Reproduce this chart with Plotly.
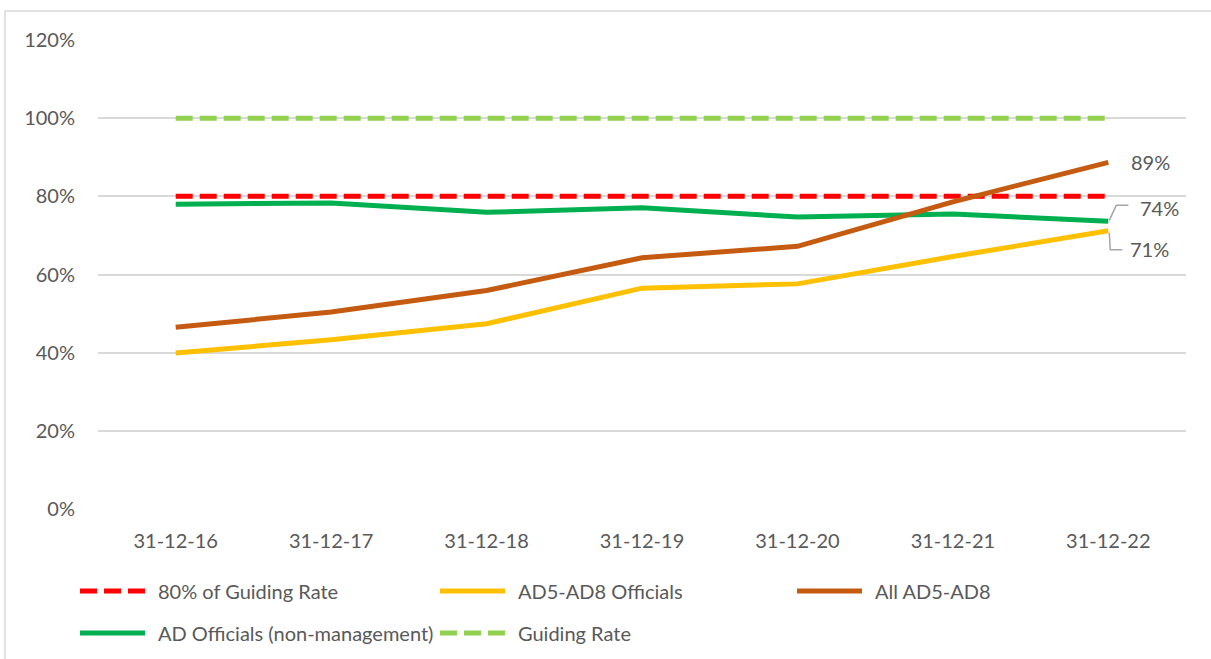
import plotly.graph_objects as go

# Reporting dates (x categories)
dates = ['31-12-16', '31-12-17', '31-12-18', '31-12-19', '31-12-20', '31-12-21', '31-12-22']

# Series values in percent
eighty_of_guiding = [80, 80, 80, 80, 80, 80, 80]
ad5_ad8_officials = [39.9, 43.3, 47.4, 56.5, 57.6, 64.6, 71.2]
all_ad5_ad8 = [46.5, 50.4, 55.9, 64.3, 67.2, 78.6, 88.7]
ad_officials_nonmgmt = [78.0, 78.3, 75.9, 77.1, 74.7, 75.5, 73.6]
guiding_rate = [100, 100, 100, 100, 100, 100, 100]

y_ticks = [0, 20, 40, 60, 80, 100, 120]
y_tick_labels = [f'{v}%' for v in y_ticks]

FONT = 'Lato'
TEXT_GREY = '#595959'
GRID_GREY = '#d9d9d9'
LINE_W = 5
DASH = '17px,7px'

series = [
    ('80% of Guiding Rate', eighty_of_guiding, '#ff0000', DASH),
    ('AD5-AD8 Officials', ad5_ad8_officials, '#ffc000', 'solid'),
    ('All AD5-AD8', all_ad5_ad8, '#c55a11', 'solid'),
    ('AD Officials (non-management)', ad_officials_nonmgmt, '#00b050', 'solid'),
    ('Guiding Rate', guiding_rate, '#92d050', DASH),
]

fig = go.Figure()

# draw order: dashed reference lines first, then the three measured series
for name, values, color, dash in [series[4], series[0], series[3], series[1], series[2]]:
    fig.add_trace(go.Scatter(
        x=dates, y=values, mode='lines', name=name,
        line={'color': color, 'width': LINE_W, 'dash': dash},
        showlegend=False, hoverinfo='skip'))

# plot area spans these pixels of the 1211x659 page
left, right, top, bottom = 98, 1186, 40, 509


def px_x(px):
    return (px - left) / (right - left)


def px_y(py):
    return (bottom - py) / (bottom - top)


# hand-made legend so the swatches are as long as in the original
legend_slots = [(80, 591), (440, 591), (797, 591), (80, 633), (440, 633)]
shapes = []
annotations = []
for (name, _, color, dash), (lx, ly) in zip(series, legend_slots):
    shapes.append({
        'type': 'line', 'xref': 'paper', 'yref': 'paper',
        'x0': px_x(lx), 'x1': px_x(lx + 65), 'y0': px_y(ly), 'y1': px_y(ly),
        'line': {'color': color, 'width': LINE_W, 'dash': dash}})
    annotations.append({
        'xref': 'paper', 'yref': 'paper', 'x': px_x(lx + 76), 'y': px_y(ly),
        'text': name, 'showarrow': False, 'xanchor': 'left', 'yanchor': 'middle',
        'font': {'family': FONT, 'size': 20, 'color': TEXT_GREY}})

# end-of-line value labels
last = len(dates) - 1
annotations.append({
    'x': dates[-1], 'y': all_ad5_ad8[-1], 'text': f'{all_ad5_ad8[-1]:.0f}%',
    'showarrow': False, 'xanchor': 'left', 'yanchor': 'middle', 'xshift': 21,
    'font': {'family': FONT, 'size': 20, 'color': TEXT_GREY}})
annotations.append({
    'x': dates[-1], 'y': ad_officials_nonmgmt[-1], 'text': f'{ad_officials_nonmgmt[-1]:.0f}%',
    'showarrow': False, 'xanchor': 'left', 'yanchor': 'middle', 'xshift': 30, 'yshift': 13,
    'font': {'family': FONT, 'size': 20, 'color': TEXT_GREY}})
annotations.append({
    'x': dates[-1], 'y': ad5_ad8_officials[-1], 'text': f'{ad5_ad8_officials[-1]:.0f}%',
    'showarrow': False, 'xanchor': 'left', 'yanchor': 'middle', 'xshift': 20, 'yshift': -18,
    'font': {'family': FONT, 'size': 20, 'color': TEXT_GREY}})

# elbow leader lines for the two labels that sit close together
shapes.append({
    'type': 'path', 'xref': 'x', 'yref': 'y', 'xsizemode': 'pixel', 'ysizemode': 'pixel',
    'xanchor': last, 'yanchor': ad_officials_nonmgmt[-1],
    'path': 'M1,1 L8,16 L20,16', 'line': {'color': '#a6a6a6', 'width': 1.5}})
shapes.append({
    'type': 'path', 'xref': 'x', 'yref': 'y', 'xsizemode': 'pixel', 'ysizemode': 'pixel',
    'xanchor': last, 'yanchor': ad5_ad8_officials[-1],
    'path': 'M1,-2 L2,-19 L14,-19', 'line': {'color': '#a6a6a6', 'width': 1.5}})

# thin frame around the whole chart
shapes.append({
    'type': 'rect', 'xref': 'paper', 'yref': 'paper', 'layer': 'below',
    'x0': px_x(5), 'x1': px_x(1230), 'y0': px_y(11), 'y1': px_y(680),
    'line': {'color': GRID_GREY, 'width': 1.5}})

fig.update_xaxes(
    type='category', range=[-0.5, len(dates) - 0.5],
    showgrid=False, zeroline=False, showline=False, ticks='',
    ticklabelstandoff=18,
    tickfont={'family': FONT, 'size': 20, 'color': TEXT_GREY})
fig.update_yaxes(
    range=[0, 120], tickvals=y_ticks, ticktext=y_tick_labels,
    showgrid=True, gridcolor=GRID_GREY, gridwidth=1.5,
    zeroline=False, showline=False, ticklabelstandoff=22,
    tickfont={'family': FONT, 'size': 20, 'color': TEXT_GREY})

fig.update_layout(
    width=1211, height=659,
    margin={'l': left, 'r': 1211 - right, 't': top, 'b': 659 - bottom},
    plot_bgcolor='white', paper_bgcolor='white',
    shapes=shapes, annotations=annotations,
    font={'family': FONT, 'color': TEXT_GREY},
    showlegend=False)

# drop the default page margin so the chart sits at the window's top-left corner
fig.write_html(
    "out.html", config={'displayModeBar': False},
    post_script="document.body.style.margin='0';document.body.style.overflow='hidden';")
